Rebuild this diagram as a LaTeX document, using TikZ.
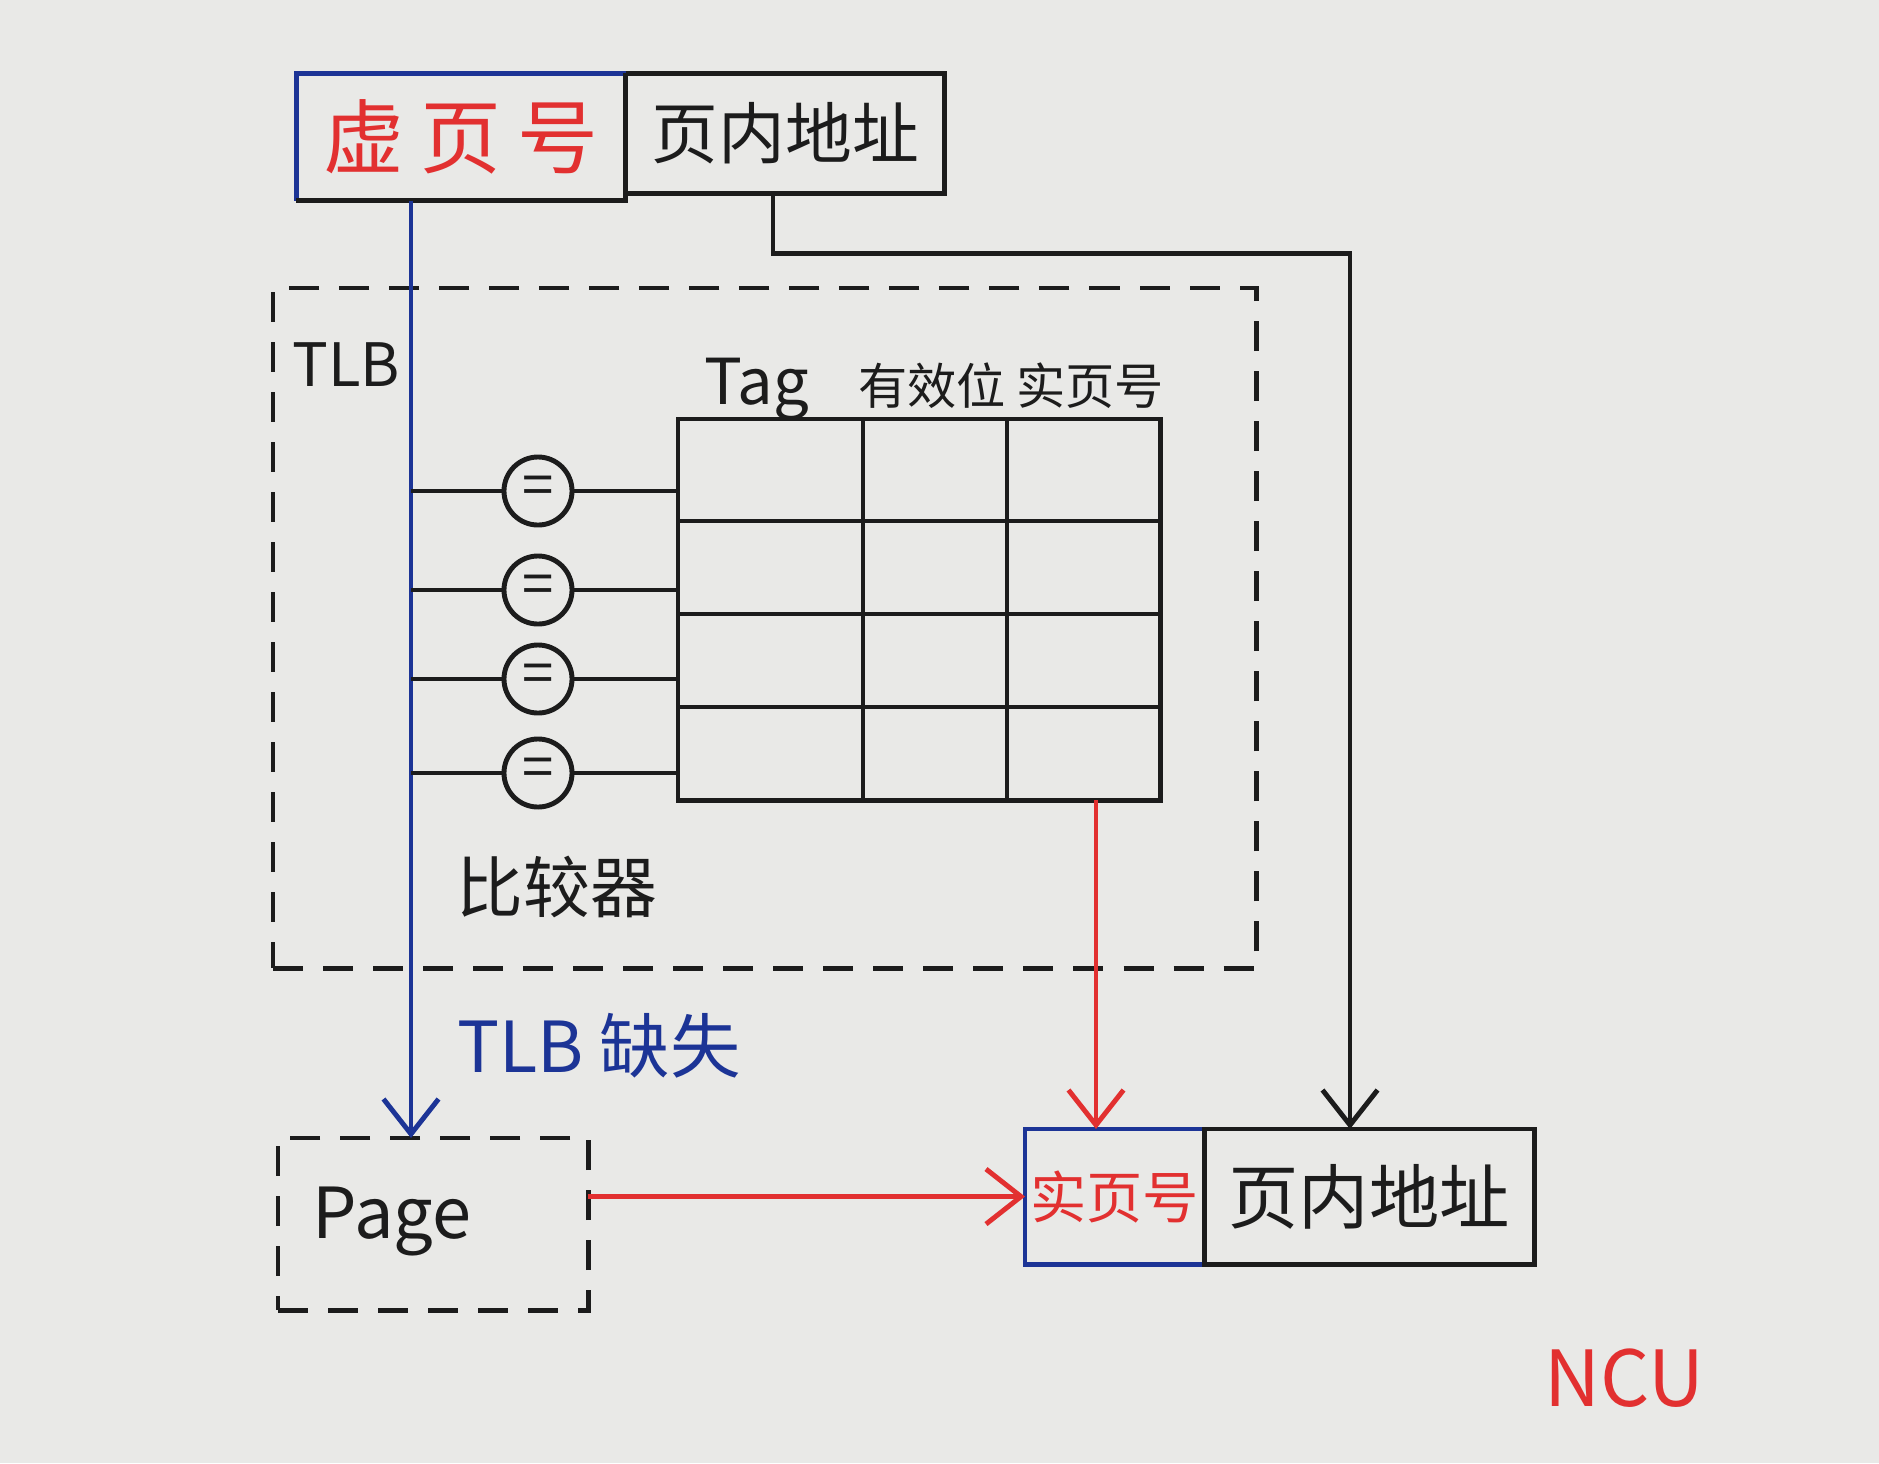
\documentclass[tikz,border=0pt]{standalone}
\usepackage{fontspec}
\setmainfont{Noto Sans CJK SC}
\usetikzlibrary{arrows.meta,calc}
\definecolor{pen}{RGB}{28,28,28}
\definecolor{penred}{RGB}{226,48,48}
\definecolor{penblue}{RGB}{28,52,150}
\definecolor{paper}{RGB}{233,233,231}
\tikzset{
  fs/.style={font=\fontsize{#1}{#1}\selectfont},
  plain/.style={inner sep=0pt, outer sep=0pt},
  cmp/.style={draw=pen, circle, minimum size=0.68cm, inner sep=0pt, fs=16},
  tlbdash/.style={draw=pen, dash pattern=on 0.3cm off 0.2cm},
  arr/.style={-{Straight Barb[length=3.5mm,width=5.5mm,line width=1.4pt]}},
}
\begin{document}
\begin{tikzpicture}[x=0.01cm,y=-0.01cm,line width=1.4pt,pen]
\useasboundingbox (0,0) rectangle (1879,1463);
\fill[paper] (0,0) rectangle (1879,1463);

% top address
\node[plain, minimum width=3.29cm, minimum height=1.27cm, text=penred, fs=23] (vpn) at (461,137) {虚\hspace{0.2em}页\hspace{0.2em}号};
\node[plain, minimum width=3.19cm, minimum height=1.20cm, anchor=north west, fs=19] (off) at (vpn.north east) {页内地址};
\draw[penblue] (vpn.south west) -- (vpn.north west) -- (vpn.north east);
\draw[pen] (vpn.south west) -- (vpn.south east) -- (vpn.north east);
\draw[pen] (off.north west) -- (off.north east) -- (off.south east) -- (off.south west);

% TLB box
\node[tlbdash, plain, minimum width=9.83cm, minimum height=6.80cm, anchor=north west] (tlb) at (273,288) {};
\node[fs=17, anchor=north west, inner sep=0pt] (tlbl) at (290,340) {TLB};

% table
\node[draw=pen, plain, minimum width=4.82cm, minimum height=3.81cm, anchor=north west] (tab) at (678,419) {};
\foreach \x in {863,1007} \draw[pen] (\x,0 |- tab.north) -- (\x,0 |- tab.south);
\foreach \y in {521,614,707} \draw[pen] (tab.west |- 0,\y) -- (tab.east |- 0,\y);
\node[fs=18, anchor=base] (htag) at (757,404) {Tag};
\node[fs=14, anchor=base] (hval) at (932,404) {有效位};
\node[fs=14, anchor=base] (hppn) at (1090,404) {实页号};

% comparators
\node[cmp] (c1) at (538,491) {=};
\node[cmp] (c2) at (538,590) {=};
\node[cmp] (c3) at (538,679) {=};
\node[cmp] (c4) at (538,773) {=};
\node[fs=19] (cmpl) at (557,887) {比较器};

% page box
\node[plain, draw=pen, dash pattern=on 0.3cm off 0.2cm, minimum width=3.10cm, minimum height=1.72cm, anchor=north west] (page) at (278,1138) {};
\node[fs=20, anchor=base] (pagel) at (392,1238) {Page};

% physical address
\node[plain, minimum width=1.79cm, minimum height=1.35cm, anchor=north west, text=penred, fs=16] (ppn) at (1025,1129) {实页号};
\node[plain, minimum width=3.30cm, minimum height=1.35cm, anchor=north west, fs=20] (poff) at (ppn.north east) {页内地址};
\draw[penblue] (ppn.north east) -- (ppn.north west) -- (ppn.south west) -- (ppn.south east);
\draw[pen] (ppn.north east) -- (poff.north east) -- (poff.south east) -- (ppn.south east) -- cycle;

% blue vpn line
\coordinate (b0) at (411,0 |- vpn.south);
\draw[penblue, arr] (b0) -- (b0 |- page.north);
\foreach \c in {c1,c2,c3,c4} {
  \draw[pen] (b0 |- \c) -- (\c.west);
  \draw[pen] (\c.east) -- (\c -| tab.west);
}
\node[fs=20, text=penblue, anchor=base west, inner sep=0pt] (miss) at (455,1072) {TLB 缺失};

% offset line
\coordinate (o0) at (773,0 |- off.south);
\coordinate (o1) at (1350,0 |- poff.north);
\draw[pen, arr] (o0) -- ++(0,60) -| (o1);

% red lines
\coordinate (r0) at (1096,0 |- tab.south);
\draw[penred, arr] (r0) -- (r0 |- ppn.north);
\draw[penred, arr] (page.east |- ppn.west) -- (ppn.west);

\node[fs=22, text=penred] (ncu) at (1624,1378) {NCU};
\end{tikzpicture}
\end{document}
